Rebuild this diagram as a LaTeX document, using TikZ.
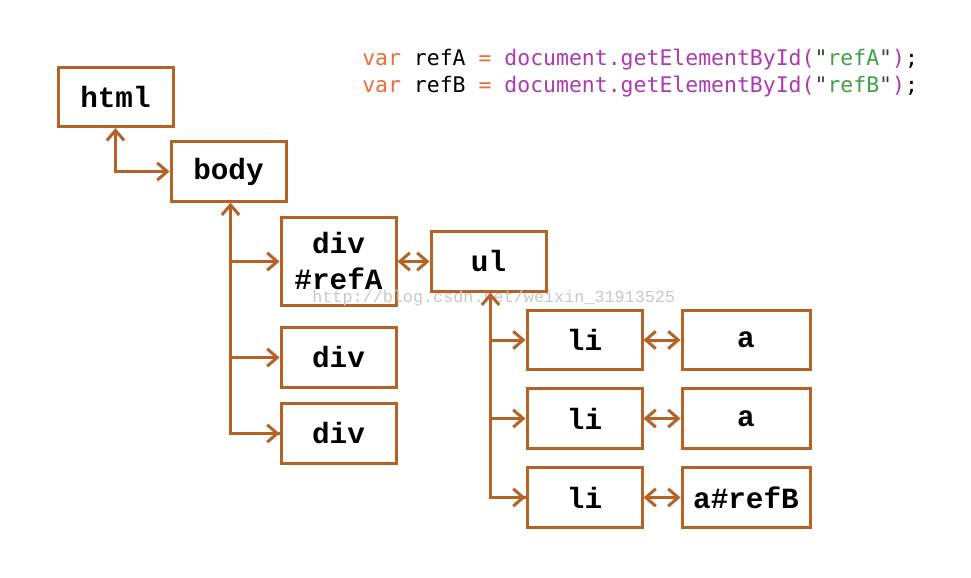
\documentclass[tikz,border=0pt]{standalone}
\usepackage{fontspec}
\newfontfamily\boxfont{Liberation Mono}
\newfontfamily\codefont{DejaVu Sans Mono}
\usetikzlibrary{arrows.meta}
\definecolor{brn}{RGB}{180,98,38}
\definecolor{kwd}{RGB}{238,108,60}
\definecolor{fnc}{RGB}{172,58,178}
\definecolor{strc}{RGB}{66,160,70}
\definecolor{wm}{RGB}{200,200,200}
\tikzset{
  tip/.tip={Straight Barb[length=7.5pt,width=13pt,line width=2.25pt]},
  dombox/.style={draw=brn, line width=2.25pt, minimum width=86.25pt, minimum height=44.5pt,
    inner sep=0pt, align=center, font=\boxfont\bfseries\fontsize{22}{27}\selectfont},
  widebox/.style={dombox, minimum width=96pt},
  link/.style={draw=brn, line width=2.25pt, line cap=butt, arrows={-tip}},
  dlink/.style={link, arrows={tip-tip}},
  uplink/.style={link, arrows={tip-}},
  codeline/.style={anchor=west, inner sep=0pt, font=\codefont\fontsize{16.1}{20}\selectfont}
}
\begin{document}
\begin{tikzpicture}[x=0.75pt,y=-0.75pt]
\useasboundingbox[fill=white] (0,0) rectangle (971,578);
% code
\node[codeline] (c1) at (362,60) {\textcolor{kwd}{var} refA \textcolor{kwd}{=} \textcolor{fnc}{document.getElementById(}\textcolor{black!75}{"}\textcolor{strc}{refA}\textcolor{black!75}{"}\textcolor{fnc}{)};};
\node[codeline] (c2) at (362,87) {\textcolor{kwd}{var} refB \textcolor{kwd}{=} \textcolor{fnc}{document.getElementById(}\textcolor{black!75}{"}\textcolor{strc}{refB}\textcolor{black!75}{"}\textcolor{fnc}{)};};
% boxes
\node[dombox] (html) at (115.5,97) {html};
\node[dombox] (body) at (228.5,171.5) {body};
\node[dombox, minimum height=66pt] (refA) at (338.5,261) {div\\\#refA};
\node[dombox] (ul) at (488.5,261.5) {ul};
\node[dombox] (div2) at (338.5,357.5) {div};
\node[dombox] (div3) at (338.5,433.5) {div};
\node[dombox] (li1) at (584.5,340) {li};
\node[dombox] (li2) at (584.5,418.5) {li};
\node[dombox] (li3) at (584.5,497.5) {li};
\node[widebox] (a1) at (746,340) {a};
\node[widebox] (a2) at (746,418.5) {a};
\node[widebox] (a3) at (746,497.5) {a\#refB};
% watermark
\node[anchor=west, inner sep=0pt, text=wm, font=\boxfont\fontsize{12.6}{14}\selectfont] (wm) at (312,298) {http://blog.csdn.net/weixin\_31913525};
% connectors
\coordinate (bx) at ([xshift=1.5pt]body.south);
\coordinate (ux) at ([xshift=1.5pt]ul.south);
\draw[dlink] (html.south) |- (body.west);
\draw[uplink] (bx) |- (div3.west);
\draw[link] (bx |- ul.west) -- (refA.west |- ul.west);
\draw[link] (bx |- div2.west) -- (div2.west);
\draw[link] (bx |- div3.west) -- (div3.west);
\draw[dlink] (refA.east |- ul.west) -- (ul.west);
\draw[uplink] (ux) |- (li3.west);
\draw[link] (ux |- li1.west) -- (li1.west);
\draw[link] (ux |- li2.west) -- (li2.west);
\draw[link] (ux |- li3.west) -- (li3.west);
\draw[dlink] (li1.east) -- (a1.west);
\draw[dlink] (li2.east) -- (a2.west);
\draw[dlink] (li3.east) -- (a3.west);
\end{tikzpicture}
\end{document}
